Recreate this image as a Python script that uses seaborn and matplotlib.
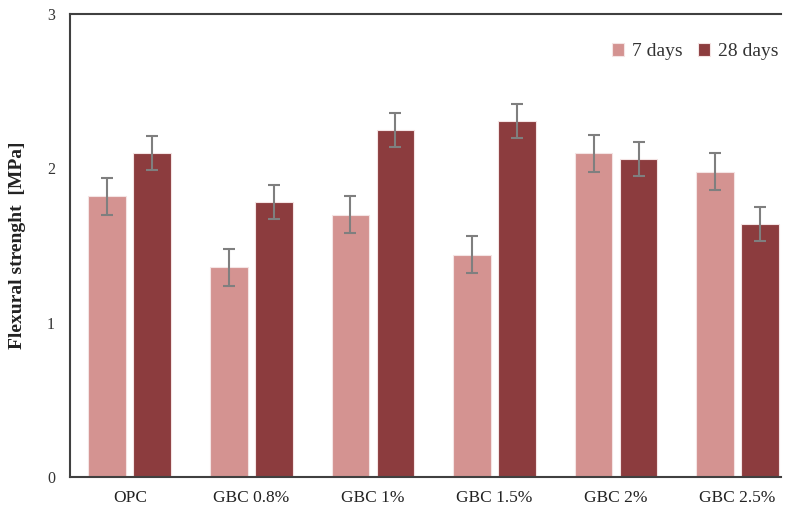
import numpy as np
import pandas as pd
import seaborn as sns
import matplotlib.pyplot as plt

mixes = ['OPC', 'GBC 0.8%', 'GBC 1%', 'GBC 1.5%', 'GBC 2%', 'GBC 2.5%']
days7 = [1.82, 1.36, 1.70, 1.44, 2.10, 1.98]
days28 = [2.10, 1.78, 2.25, 2.31, 2.06, 1.64]
err7 = [0.12, 0.12, 0.12, 0.12, 0.12, 0.12]
err28 = [0.11, 0.11, 0.11, 0.11, 0.11, 0.11]

df = pd.DataFrame({
    'Mix': mixes * 2,
    'Age': ['7 days'] * 6 + ['28 days'] * 6,
    'Strength': days7 + days28,
    'Err': err7 + err28,
})

sns.set_style('white')
plt.rcParams['font.family'] = ['Liberation Serif', 'DejaVu Serif']

fig, ax = plt.subplots(figsize=(7.9, 5.08), dpi=100)
sns.barplot(data=df, x='Mix', y='Strength', hue='Age', ax=ax,
            palette=['#D49391', '#8C3C3E'], saturation=1, width=0.74, gap=0.16,
            edgecolor='#f4e4e4', linewidth=0.8, errorbar=None)

# error bars placed at the bar centres
for cont, errs in zip(ax.containers, [err7, err28]):
    for bar, e in zip(cont, errs):
        ax.errorbar(bar.get_x() + bar.get_width() / 2, bar.get_height(), yerr=e,
                    fmt='none', ecolor='#7f7f7f', elinewidth=1.5, capsize=4, capthick=1.5)

ax.set_ylim(0, 3)
ax.set_xlim(-0.49, 5.36)
ax.set_yticks([0, 1, 2, 3])
ax.set_xlabel('')
ax.set_ylabel('Flexural strenght  [MPa]', fontsize=14, fontweight='bold', color='#222222', labelpad=15)
ax.tick_params(axis='y', length=5, width=1.2, color='#404040', labelsize=11.5, labelcolor='#333333', pad=6)
ax.tick_params(axis='x', length=0, labelsize=12.5, labelcolor='#222222', pad=9)

for s in ['left', 'bottom', 'top']:
    ax.spines[s].set_color('#404040')
    ax.spines[s].set_linewidth(1.5)
ax.spines['right'].set_visible(False)

leg = ax.legend(loc='upper right', frameon=False, fontsize=14, ncol=2,
                handlelength=0.6, handleheight=0.6, handletextpad=0.4,
                columnspacing=0.8, bbox_to_anchor=(1.02, 0.975))
for t in leg.get_texts():
    t.set_color('#333333')

plt.subplots_adjust(left=0.089, right=0.989, top=0.972, bottom=0.061)
plt.savefig('out.png')
